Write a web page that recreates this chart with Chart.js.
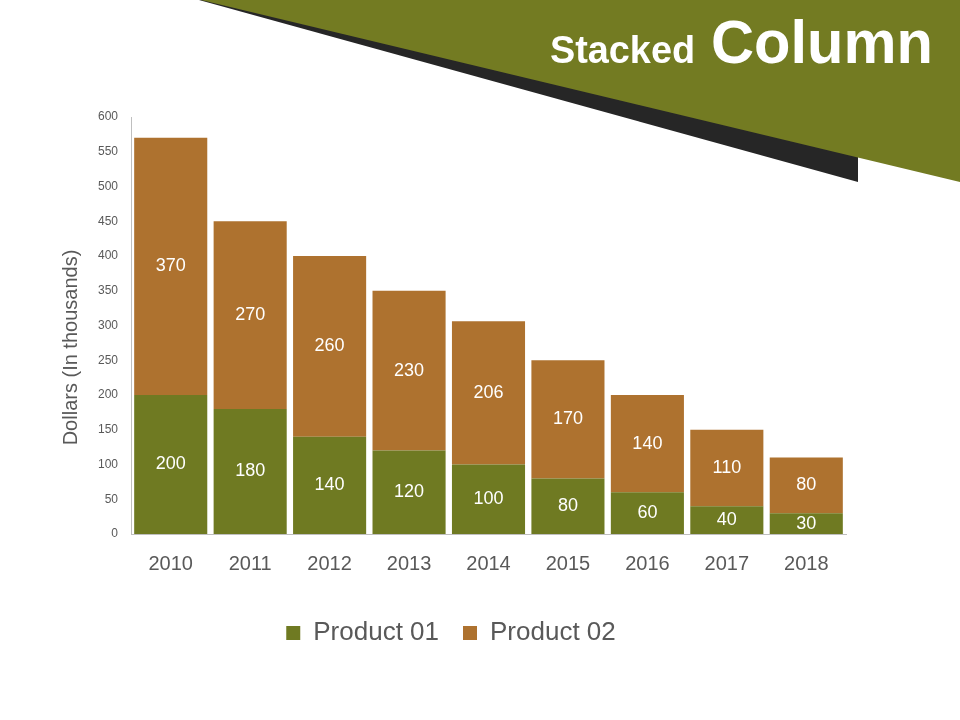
<!DOCTYPE html>
<html>
<head>
<meta charset="utf-8">
<script src="https://cdn.jsdelivr.net/npm/chart.js@4.4.1/dist/chart.umd.min.js"></script>
<style>
html, body { margin:0; padding:0; background:#fff; }
#wrap { position:relative; width:960px; height:720px; overflow:hidden; }
#banner { position:absolute; left:0; top:0; }
#banner text { fill:#fff; font-family:"Liberation Sans", Arial, sans-serif; font-weight:bold; }
</style>
</head>
<body>
<div id="wrap">
  <canvas id="chart" width="960" height="720"></canvas>
  <svg id="banner" width="960" height="200">
    <polygon points="199,0 858,0 858,182" fill="#262626"/>
    <polygon points="201,0 960,0 960,182" fill="#737B22"/>
    <text x="550" y="63" font-size="38" textLength="145" lengthAdjust="spacingAndGlyphs">Stacked</text>
    <text x="711" y="63" font-size="62" textLength="222" lengthAdjust="spacingAndGlyphs">Column</text>
  </svg>
</div>
<script>
var years = ['2010','2011','2012','2013','2014','2015','2016','2017','2018'];
var product01 = [200, 180, 140, 120, 100, 80, 60, 40, 30];
var product02 = [370, 270, 260, 230, 206, 170, 140, 110, 80];
var seriesNames = ['Product 01', 'Product 02'];
var yTitle = 'Dollars (In thousands)';

var green = '#6F7A22';
var brown = '#AE722F';
var grey = '#595959';
var font = '"Liberation Sans", Arial, sans-serif';

// white numbers in the middle of each piece
var segLabels = {
    id: 'segLabels',
    afterDatasetsDraw: function(chart) {
        var ctx = chart.ctx;
        ctx.save();
        ctx.fillStyle = '#fff';
        ctx.font = '18px ' + font;
        ctx.textAlign = 'center';
        ctx.textBaseline = 'middle';
        chart.data.datasets.forEach(function(ds, i) {
            chart.getDatasetMeta(i).data.forEach(function(bar, j) {
                var mid = (bar.y + bar.base) / 2;
                ctx.fillText(ds.data[j], bar.x, mid);
            });
        });
        ctx.restore();
    }
};

// y title sits a bit lower than the axis middle in the original
var sideTitle = {
    id: 'sideTitle',
    afterDraw: function(chart) {
        var ctx = chart.ctx;
        var a = chart.chartArea;
        ctx.save();
        ctx.translate(71, (a.top + a.bottom) / 2 + 22);
        ctx.rotate(-Math.PI / 2);
        ctx.fillStyle = grey;
        ctx.font = '20px ' + font;
        ctx.textAlign = 'center';
        ctx.textBaseline = 'middle';
        ctx.fillText(yTitle, 0, 0);
        ctx.restore();
    }
};

var chart = new Chart(document.getElementById('chart'), {
    type: 'bar',
    data: {
        labels: years,
        datasets: [
            { label: seriesNames[0], data: product01, backgroundColor: green },
            { label: seriesNames[1], data: product02, backgroundColor: brown }
        ]
    },
    options: {
        responsive: false,
        animation: false,
        layout: { padding: { left: 56, top: 117, right: 114, bottom: 64 } },
        datasets: { bar: { barPercentage: 0.92, categoryPercentage: 1 } },
        plugins: {
            legend: {
                position: 'bottom',
                labels: { color: grey, font: { family: font, size: 26 }, boxWidth: 14, boxHeight: 14, padding: 24 }
            },
            tooltip: { enabled: false }
        },
        scales: {
            x: {
                stacked: true,
                grid: { display: false },
                border: { color: '#BFBFBF' },
                ticks: { color: grey, font: { family: font, size: 20 }, padding: 10 },
                afterFit: function(s) { s.height = 62; }
            },
            y: {
                stacked: true,
                min: 0, max: 600,
                grid: { display: false, drawTicks: false },
                border: { color: '#BFBFBF' },
                ticks: { stepSize: 50, color: grey, font: { family: font, size: 12 }, padding: 13 },
                afterFit: function(s) { s.width = 75; }
            }
        }
    },
    plugins: [segLabels, sideTitle]
});
</script>
</body>
</html>
